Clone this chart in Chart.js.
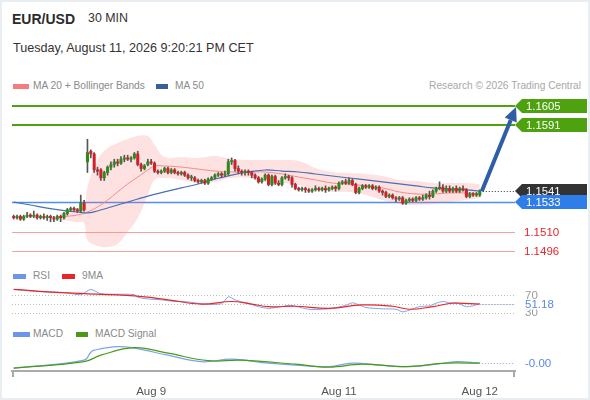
<!DOCTYPE html>
<html lang="en">
<head>
<meta charset="UTF-8" />
<title>EUR/USD 30 MIN</title>
<script src="https://cdn.jsdelivr.net/npm/chart.js"></script>
<style>
  body { margin: 0; background: #fff; font-family: "Liberation Sans", Arial, sans-serif; }
  #frame { position: relative; width: 590px; height: 400px; overflow: hidden; background: #fff; }
  #edge { position: absolute; left: 0; top: 0; width: 590px; height: 400px; box-sizing: border-box; border: 2px solid #e9eef2; pointer-events: none; }
  .t { position: absolute; white-space: nowrap; line-height: 1; }
  .sw { position: absolute; height: 5px; }
  .lg { font-size: 10.2px; color: #8a8a8a; }
  canvas { position: absolute; left: 0; }
</style>
</head>
<body>
<div id="frame">
  <div class="t" style="left:12px; top:12px; font-size:14px; font-weight:bold; color:#2b2b2b;">EUR/USD</div>
  <div class="t" style="left:88px; top:12px; font-size:12.4px; color:#333;">30 MIN</div>
  <div class="t" style="left:13px; top:42px; font-size:12.6px; color:#333;">Tuesday, August 11, 2026 9:20:21 PM CET</div>

  <div class="sw" style="left:13px; top:84px; width:16px; background:#f77b7b;"></div>
  <div class="t lg" style="left:33px; top:81px;">MA 20 + Bollinger Bands</div>
  <div class="sw" style="left:156px; top:84px; width:12px; background:#3b5e9e;"></div>
  <div class="t lg" style="left:175px; top:81px;">MA 50</div>
  <div class="t lg" style="right:9px; top:81px; color:#a8a8a8;">Research © 2026 Trading Central</div>

  <div class="sw" style="left:13px; top:274px; width:13px; background:#6d95ea;"></div>
  <div class="t lg" style="left:33px; top:271px;">RSI</div>
  <div class="sw" style="left:62px; top:274px; width:13px; background:#e8262a;"></div>
  <div class="t lg" style="left:82px; top:271px;">9MA</div>

  <div class="sw" style="left:13px; top:332px; width:17px; background:#6d95ea;"></div>
  <div class="t lg" style="left:33px; top:329px;">MACD</div>
  <div class="sw" style="left:76px; top:332px; width:12px; background:#4a9a18;"></div>
  <div class="t lg" style="left:95px; top:329px;">MACD Signal</div>

  <canvas id="price" width="590" height="170" style="top:95px;"></canvas>
  <canvas id="rsi" width="590" height="35" style="top:285px;"></canvas>
  <canvas id="macd" width="590" height="60" style="top:340px;"></canvas>
  <div id="edge"></div>
</div>

<script>
// candles, 30 min
const open = [
  1.1522,1.1521,1.1522,1.1520,1.1522,1.1523,1.1522,1.1523,1.1521,1.1522,
  1.1521,1.1522,1.1521,1.1520,1.1522,1.1521,1.1524,1.1527,1.1528,1.1527,
  1.1526,1.1532,1.1563,1.1571,1.1569,1.1557,1.1557,1.1551,1.1555,1.1559,
  1.1561,1.1563,1.1562,1.1565,1.1566,1.1565,1.1566,1.1569,1.1561,1.1558,
  1.1561,1.1563,1.1562,1.1556,1.1555,1.1556,1.1558,1.1555,1.1557,1.1555,
  1.1554,1.1555,1.1553,1.1551,1.1551,1.1549,1.1548,1.1549,1.1547,1.1550,
  1.1551,1.1553,1.1554,1.1553,1.1554,1.1563,1.1564,1.1558,1.1556,1.1555,
  1.1556,1.1555,1.1553,1.1551,1.1548,1.1550,1.1553,1.1546,1.1552,1.1547,
  1.1546,1.1551,1.1552,1.1551,1.1546,1.1543,1.1542,1.1543,1.1542,1.1541,
  1.1542,1.1543,1.1542,1.1543,1.1542,1.1543,1.1544,1.1543,1.1547,1.1548,
  1.1547,1.1549,1.1546,1.1540,1.1543,1.1545,1.1544,1.1545,1.1543,1.1544,
  1.1541,1.1540,1.1537,1.1538,1.1536,1.1535,1.1536,1.1532,1.1534,1.1535,
  1.1534,1.1536,1.1535,1.1536,1.1538,1.1537,1.1541,1.1543,1.1544,1.1541,
  1.1543,1.1541,1.1543,1.1541,1.1543,1.1542,1.1537,1.1539,1.1538,1.1538
];
const high = [
  1.1523,1.1523,1.1523,1.1523,1.1525,1.1524,1.1526,1.1524,1.1523,1.1524,
  1.1523,1.1523,1.1522,1.1523,1.1523,1.1525,1.1528,1.1529,1.1529,1.1528,
  1.1538,1.1534,1.1580,1.1572,1.1570,1.1559,1.1558,1.1556,1.1560,1.1563,
  1.1565,1.1565,1.1567,1.1568,1.1568,1.1567,1.1570,1.1571,1.1562,1.1561,
  1.1565,1.1565,1.1563,1.1557,1.1557,1.1559,1.1559,1.1558,1.1558,1.1556,
  1.1556,1.1556,1.1554,1.1553,1.1552,1.1550,1.1550,1.1550,1.1551,1.1552,
  1.1554,1.1555,1.1555,1.1556,1.1565,1.1566,1.1565,1.1560,1.1557,1.1557,
  1.1557,1.1556,1.1554,1.1552,1.1551,1.1554,1.1554,1.1553,1.1553,1.1549,
  1.1552,1.1554,1.1553,1.1552,1.1547,1.1544,1.1544,1.1544,1.1543,1.1543,
  1.1545,1.1544,1.1544,1.1545,1.1544,1.1545,1.1545,1.1548,1.1549,1.1550,
  1.1551,1.1550,1.1547,1.1544,1.1546,1.1546,1.1546,1.1546,1.1545,1.1545,
  1.1542,1.1541,1.1539,1.1539,1.1537,1.1537,1.1537,1.1535,1.1536,1.1536,
  1.1537,1.1537,1.1538,1.1539,1.1541,1.1542,1.1544,1.1548,1.1546,1.1545,
  1.1545,1.1544,1.1545,1.1544,1.1545,1.1543,1.1540,1.1540,1.1540,1.1542
];
const low = [
  1.1520,1.1520,1.1519,1.1519,1.1521,1.1521,1.1521,1.1520,1.1520,1.1520,
  1.1519,1.1518,1.1518,1.1519,1.1518,1.1520,1.1523,1.1526,1.1526,1.1525,
  1.1525,1.1526,1.1555,1.1566,1.1555,1.1553,1.1549,1.1549,1.1553,1.1557,
  1.1559,1.1560,1.1561,1.1563,1.1564,1.1563,1.1565,1.1560,1.1556,1.1557,
  1.1560,1.1561,1.1555,1.1554,1.1554,1.1555,1.1554,1.1554,1.1554,1.1553,
  1.1553,1.1552,1.1550,1.1549,1.1548,1.1547,1.1547,1.1546,1.1546,1.1549,
  1.1550,1.1552,1.1551,1.1552,1.1553,1.1561,1.1556,1.1554,1.1553,1.1553,
  1.1553,1.1551,1.1550,1.1547,1.1547,1.1549,1.1545,1.1545,1.1546,1.1545,
  1.1545,1.1550,1.1549,1.1544,1.1542,1.1541,1.1541,1.1540,1.1540,1.1540,
  1.1541,1.1541,1.1541,1.1540,1.1541,1.1542,1.1541,1.1542,1.1546,1.1546,
  1.1546,1.1545,1.1539,1.1539,1.1542,1.1543,1.1543,1.1542,1.1542,1.1540,
  1.1538,1.1536,1.1536,1.1535,1.1533,1.1534,1.1531,1.1531,1.1533,1.1533,
  1.1533,1.1534,1.1534,1.1535,1.1535,1.1536,1.1540,1.1542,1.1540,1.1540,
  1.1540,1.1540,1.1540,1.1540,1.1541,1.1536,1.1536,1.1537,1.1537,1.1537
];
const close = [
  1.1521,1.1522,1.1520,1.1522,1.1523,1.1522,1.1523,1.1521,1.1522,1.1521,
  1.1522,1.1521,1.1520,1.1522,1.1521,1.1524,1.1527,1.1528,1.1527,1.1526,
  1.1532,1.1527,1.1570,1.1569,1.1557,1.1556,1.1551,1.1555,1.1559,1.1561,
  1.1563,1.1562,1.1565,1.1566,1.1565,1.1566,1.1569,1.1561,1.1558,1.1560,
  1.1563,1.1562,1.1556,1.1555,1.1556,1.1558,1.1555,1.1557,1.1555,1.1554,
  1.1555,1.1553,1.1551,1.1551,1.1549,1.1548,1.1549,1.1547,1.1550,1.1551,
  1.1553,1.1554,1.1553,1.1554,1.1563,1.1564,1.1558,1.1556,1.1555,1.1556,
  1.1555,1.1553,1.1551,1.1548,1.1550,1.1553,1.1546,1.1552,1.1547,1.1546,
  1.1551,1.1552,1.1551,1.1546,1.1543,1.1542,1.1543,1.1542,1.1541,1.1542,
  1.1543,1.1542,1.1543,1.1542,1.1543,1.1544,1.1543,1.1547,1.1548,1.1547,
  1.1549,1.1546,1.1540,1.1543,1.1545,1.1544,1.1545,1.1543,1.1544,1.1541,
  1.1540,1.1537,1.1538,1.1536,1.1535,1.1536,1.1532,1.1534,1.1535,1.1534,
  1.1536,1.1535,1.1536,1.1538,1.1537,1.1541,1.1543,1.1544,1.1541,1.1543,
  1.1541,1.1543,1.1541,1.1543,1.1542,1.1537,1.1539,1.1538,1.1539,1.1541
];

// indicators: [candle index, value]
const bbUpper = [[14,1.15246],[19,1.15283],[21,1.15298],[22,1.15441],[25,1.15644],[28,1.15734],[31,1.15772],[34,1.15802],[37,1.15824],[40,1.15824],[42,1.15757],[45,1.15667],[50,1.15667],[55,1.15659],[60,1.15674],[65,1.15652],[70,1.15644],[75,1.15644],[80,1.15644],[85,1.15637],[90,1.15584],[95,1.15554],[100,1.15546],[105,1.15539],[110,1.15524],[115,1.15494],[120,1.15486],[125,1.15471],[130,1.15471],[135,1.15471],[139,1.15464]];
const bbLower = [[14,1.15193],[19,1.15178],[21,1.15170],[22,1.15043],[25,1.14998],[28,1.14990],[31,1.15013],[34,1.15103],[37,1.15208],[40,1.15381],[42,1.15494],[45,1.15509],[50,1.15494],[55,1.15471],[60,1.15479],[65,1.15509],[70,1.15509],[75,1.15479],[80,1.15471],[85,1.15456],[90,1.15419],[95,1.15404],[100,1.15404],[105,1.15381],[110,1.15343],[115,1.15313],[120,1.15306],[125,1.15313],[130,1.15328],[135,1.15343],[139,1.15358]];
const ma20 = [[14,1.15216],[19,1.15231],[22,1.15253],[25,1.15291],[28,1.15343],[31,1.15404],[34,1.15464],[37,1.15516],[40,1.15569],[42,1.15599],[45,1.15599],[50,1.15591],[55,1.15576],[60,1.15561],[65,1.15554],[70,1.15554],[75,1.15554],[80,1.15539],[85,1.15516],[90,1.15494],[95,1.15471],[100,1.15464],[105,1.15449],[110,1.15434],[115,1.15404],[120,1.15389],[125,1.15389],[130,1.15396],[135,1.15396],[139,1.15389]];
const ma50 = [[0,1.15328],[5,1.15306],[10,1.15283],[14,1.15268],[19,1.15253],[22,1.15246],[25,1.15261],[28,1.15283],[31,1.15306],[34,1.15328],[37,1.15351],[40,1.15373],[45,1.15404],[50,1.15434],[55,1.15464],[60,1.15501],[65,1.15531],[70,1.15554],[75,1.15569],[80,1.15561],[85,1.15554],[90,1.15539],[95,1.15524],[100,1.15509],[105,1.15494],[110,1.15479],[115,1.15464],[120,1.15449],[125,1.15434],[130,1.15426],[135,1.15419],[139,1.15411]];

const resistance = [1.1605, 1.1591];
const support = [1.1533, 1.1510, 1.1496];

const rsi = [[0,84],[8,79],[15,77],[20,72],[23,84],[26,74],[31,73],[36,72],[37,66],[40,62],[44,60],[47,57],[52,55],[57,50],[62,51],[64,67],[66,60],[68,55],[70,52],[73,44],[76,40],[78,42],[80,44],[82,47],[84,45],[88,38],[92,38],[95,40],[99,47],[101,53],[103,48],[105,42],[110,39],[114,38],[116,32],[118,36],[121,44],[124,46],[126,52],[128,56],[130,53],[132,53],[135,44],[137,46],[139,51.18]];
const rsiMa = [[0,84],[16,76],[36,69],[46,60],[56,50],[65,56],[71,50],[76,44],[84,45],[94,40],[104,48],[113,45],[118,38],[125,44],[131,52],[139,50]];
const rsiGuides = [70, 50, 30];

const macd = [[0,-0.00011],[21,0.00005],[23,0.00021],[24,0.00025],[31,0.00032],[36,0.00029],[46,0.00015],[56,0.00002],[65,0.00007],[76,-0.00001],[84,-0.00005],[94,-0.00008],[101,-0.00001],[109,-0.00005],[117,-0.00008],[126,-0.00003],[132,0.00002],[139,-0.00001]];
const macdSignal = [[0,-0.00011],[21,0.00002],[26,0.00015],[36,0.00030],[46,0.00019],[58,0.00004],[68,0.00005],[84,-0.00003],[94,-0.00009],[104,-0.00003],[117,-0.00008],[129,-0.00001],[139,-0.00001]];

const tickIdx = [41, 97, 139];
const tickText = ['Aug 9', 'Aug 11', 'Aug 12'];

Chart.defaults.font.family = '"Liberation Sans", Arial, sans-serif';
Chart.defaults.animation = false;

const UP = '#2f8a1c', DOWN = '#d2202a';
const last = close.length - 1;
const xAxis = { type: 'linear', min: -0.5, max: 149.5, offset: false, display: false };
const pad = { left: 12, right: 75, top: 0, bottom: 0 };
const pts = arr => arr.map(([x, y]) => ({ x, y }));

function hLine(ctx, x1, x2, y, color, width, dash) {
  ctx.save();
  ctx.strokeStyle = color;
  ctx.lineWidth = width;
  ctx.setLineDash(dash || []);
  ctx.beginPath();
  ctx.moveTo(x1, y);
  ctx.lineTo(x2, y);
  ctx.stroke();
  ctx.restore();
}

function tag(ctx, tipX, y, text, fill) {
  ctx.save();
  ctx.fillStyle = fill;
  ctx.beginPath();
  ctx.moveTo(tipX, y);
  ctx.lineTo(tipX + 7, y - 7);
  ctx.lineTo(tipX + 72, y - 7);
  ctx.lineTo(tipX + 72, y + 7);
  ctx.lineTo(tipX + 7, y + 7);
  ctx.closePath();
  ctx.fill();
  ctx.fillStyle = '#fff';
  ctx.font = '11.3px "Liberation Sans", Arial, sans-serif';
  ctx.textBaseline = 'middle';
  ctx.fillText(text, tipX + 11, y + 0.5);
  ctx.restore();
}

function sideText(ctx, x, y, text, color, bg) {
  ctx.save();
  ctx.font = '11.5px "Liberation Sans", Arial, sans-serif';
  ctx.textBaseline = 'middle';
  if (bg) {
    ctx.fillStyle = bg;
    ctx.fillRect(x - 2, y - 5, ctx.measureText(text).width + 4, 10);
  }
  ctx.fillStyle = color;
  ctx.fillText(text, x, y + 0.5);
  ctx.restore();
}

const levels = {
  id: 'levels',
  beforeDatasetsDraw(chart) {
    const { ctx, chartArea: a, scales: { y } } = chart;
    resistance.forEach(v => hLine(ctx, a.left, a.right, Math.round(y.getPixelForValue(v)), '#4ea20f', 2));
    hLine(ctx, a.left, a.right, Math.round(y.getPixelForValue(support[0])) + 0.5, '#4d8ef0', 1.5);
    support.slice(1).forEach(v => hLine(ctx, a.left, a.right, Math.round(y.getPixelForValue(v)) + 0.5, '#f4a3a3', 1));
  },
  afterDatasetsDraw(chart) {
    const { ctx, chartArea: a, scales: { x, y } } = chart;
    const lx = x.getPixelForValue(last);
    const ly = y.getPixelForValue(close[last]);
    hLine(ctx, lx + 3, a.right, Math.round(ly) + 0.5, '#333', 1, [1, 2]);

    // arrow towards the first target
    const sx = lx + 2, sy = ly, tx = a.right + 1, ty = y.getPixelForValue(resistance[0]) + 1;
    const len = Math.hypot(tx - sx, ty - sy), dx = (tx - sx) / len, dy = (ty - sy) / len;
    const bx = tx - dx * 14, by = ty - dy * 14;
    ctx.save();
    ctx.strokeStyle = '#2f5da6';
    ctx.fillStyle = '#2f5da6';
    ctx.lineWidth = 4;
    ctx.beginPath();
    ctx.moveTo(sx, sy);
    ctx.lineTo(bx, by);
    ctx.stroke();
    ctx.beginPath();
    ctx.moveTo(tx, ty);
    ctx.lineTo(bx - dy * 6.5, by + dx * 6.5);
    ctx.lineTo(bx + dy * 6.5, by - dx * 6.5);
    ctx.closePath();
    ctx.fill();
    ctx.restore();

    resistance.forEach(v => tag(ctx, a.right, Math.round(y.getPixelForValue(v)), v.toFixed(4), '#4ea20f'));
    tag(ctx, a.right, Math.round(ly), close[last].toFixed(4), '#333');
    tag(ctx, a.right, Math.round(y.getPixelForValue(support[0])), support[0].toFixed(4), '#2f7de8');
    support.slice(1).forEach(v => sideText(ctx, a.right + 9, Math.round(y.getPixelForValue(v)), v.toFixed(4), '#e8262a'));
  }
};

new Chart(document.getElementById('price'), {
  type: 'bar',
  data: {
    datasets: [
      { type: 'line', data: pts(bbUpper), fill: '+1', backgroundColor: 'rgba(250,120,120,0.22)', borderWidth: 0, pointRadius: 0, tension: 0.4, order: 5 },
      { type: 'line', data: pts(bbLower), fill: false, borderWidth: 0, pointRadius: 0, tension: 0.4, order: 5 },
      { type: 'line', data: pts(ma20), borderColor: '#f58a8a', borderWidth: 1, pointRadius: 0, tension: 0.4, order: 4 },
      { type: 'line', data: pts(ma50), borderColor: '#4a6fb5', borderWidth: 1.2, pointRadius: 0, tension: 0.4, order: 3 },
      { data: close.map((c, i) => ({ x: i, y: [low[i], high[i]] })), backgroundColor: '#555', barThickness: 1, grouped: false, order: 2 },
      { data: close.map((c, i) => ({ x: i, y: [open[i], c] })), backgroundColor: ctx => close[ctx.dataIndex] >= open[ctx.dataIndex] ? UP : DOWN,
        barThickness: 2.4, minBarLength: 1, grouped: false, order: 1 }
    ]
  },
  options: {
    responsive: false,
    layout: { padding: pad },
    plugins: { legend: { display: false }, tooltip: { enabled: false } },
    scales: { x: xAxis, y: { display: false, min: 1.148548, max: 1.161327 } }
  },
  plugins: [levels]
});

const rsiMarks = {
  id: 'rsiMarks',
  beforeDatasetsDraw(chart) {
    const { ctx, chartArea: a, scales: { y } } = chart;
    rsiGuides.forEach(v => hLine(ctx, a.left, a.right, Math.round(y.getPixelForValue(v)) + 0.5, '#bdbdbd', 1, [1, 2]));
  },
  afterDatasetsDraw(chart) {
    const { ctx, chartArea: a, scales: { x, y } } = chart;
    const lv = rsi[rsi.length - 1];
    const ly = Math.round(y.getPixelForValue(lv[1])) + 0.5;
    hLine(ctx, x.getPixelForValue(lv[0]) + 2, a.right, ly, '#7ea2ee', 1, [1, 2]);
    sideText(ctx, a.right + 10, y.getPixelForValue(rsiGuides[0]), String(rsiGuides[0]), '#999');
    sideText(ctx, a.right + 10, y.getPixelForValue(rsiGuides[2]), String(rsiGuides[2]), '#999');
    sideText(ctx, a.right + 10, ly, lv[1].toFixed(2), '#5b87ea', '#fff');
  }
};

new Chart(document.getElementById('rsi'), {
  type: 'line',
  data: {
    datasets: [
      { data: pts(rsiMa), borderColor: '#e8262a', borderWidth: 1.2, pointRadius: 0, tension: 0.4 },
      { data: pts(rsi), borderColor: '#7ea2ee', borderWidth: 1, pointRadius: 0, tension: 0.25 }
    ]
  },
  options: {
    responsive: false,
    layout: { padding: pad },
    plugins: { legend: { display: false }, tooltip: { enabled: false } },
    scales: { x: xAxis, y: { display: false, min: 13, max: 94.4 } }
  },
  plugins: [rsiMarks]
});

const macdMarks = {
  id: 'macdMarks',
  afterDatasetsDraw(chart) {
    const { ctx, chartArea: a, scales: { x, y } } = chart;
    const lv = macd[macd.length - 1];
    const ly = Math.round(y.getPixelForValue(lv[1])) + 0.5;
    hLine(ctx, x.getPixelForValue(lv[0]) + 2, a.right, ly, '#7ea2ee', 1, [1, 2]);
    sideText(ctx, a.right + 10, ly, (lv[1] * 100).toFixed(2), '#5b87ea');
  },
  afterDraw(chart) {
    const { ctx, chartArea: a } = chart;
    ctx.save();
    ctx.strokeStyle = '#aaa';
    ctx.lineWidth = 2;
    ctx.beginPath();
    ctx.moveTo(a.left + 1, a.bottom);
    ctx.lineTo(a.left + 1, a.bottom + 6);
    ctx.moveTo(a.right - 1, a.bottom);
    ctx.lineTo(a.right - 1, a.bottom + 6);
    ctx.stroke();
    ctx.restore();
  }
};

new Chart(document.getElementById('macd'), {
  type: 'line',
  data: {
    datasets: [
      { data: pts(macdSignal), borderColor: '#4a9a18', borderWidth: 1.2, pointRadius: 0, tension: 0.4 },
      { data: pts(macd), borderColor: '#7ea2ee', borderWidth: 1.2, pointRadius: 0, tension: 0.4 }
    ]
  },
  options: {
    responsive: false,
    layout: { padding: pad },
    plugins: { legend: { display: false }, tooltip: { enabled: false } },
    scales: {
      x: {
        type: 'linear', min: -0.5, max: 149.5,
        grid: { display: false },
        border: { display: true, color: '#aaa', width: 2 },
        afterBuildTicks: s => { s.ticks = tickIdx.map(v => ({ value: v })); },
        afterFit: s => { s.height = 29; },
        ticks: { autoSkip: false, maxRotation: 0, padding: 6, color: '#555', font: { size: 11.5 },
          callback: v => tickText[tickIdx.indexOf(v)] }
      },
      y: { display: false, min: -0.000166, max: 0.000454 }
    }
  },
  plugins: [macdMarks]
});
</script>
</body>
</html>
